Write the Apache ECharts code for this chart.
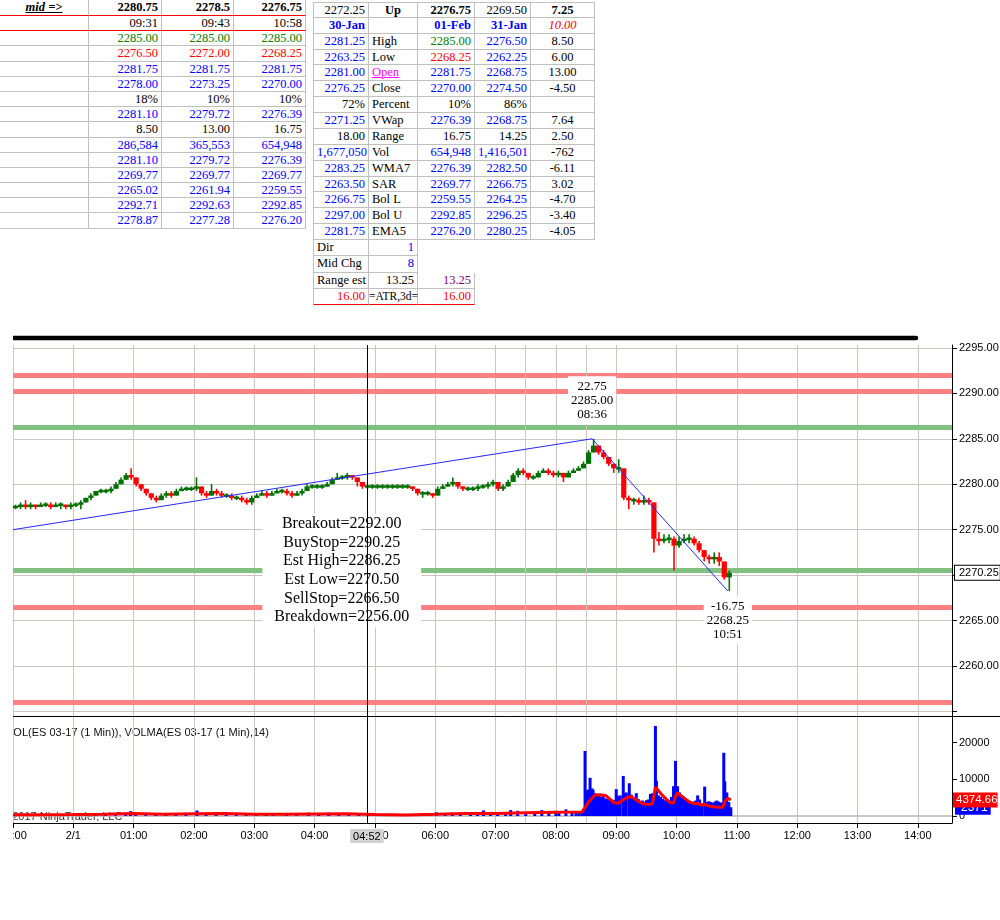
<!DOCTYPE html>
<html>
<head>
<meta charset="utf-8">
<title>ES 03-17 (1 Min) - levels</title>
<script src="https://cdn.jsdelivr.net/npm/echarts@6/dist/echarts.min.js"></script>
<style>
  body { margin: 0; background: #fff; }
  #page { position: relative; width: 1000px; height: 920px; overflow: hidden; }
  .cell {
    position: absolute; box-sizing: border-box;
    border-right: 1px solid #c0c0c0; border-bottom: 1px solid #c0c0c0;
    font-family: 'Liberation Serif', 'Times New Roman', serif; font-size: 12.5px;
    white-space: nowrap; overflow: hidden; padding: 0 3px;
  }
  #chart { position: absolute; left: 13px; top: 320px; width: 987px; height: 600px; }
</style>
</head>
<body>
<div id="page">
  <div id="chart"></div>
</div>

<script>
// ---------- top-left table (mid snapshots)
var midHead = ['2280.75', '2278.5', '2276.75'];
var midTimes = ['09:31', '09:43', '10:58'];
var midRows = [
  ['2285.00', '2285.00', '2285.00'],
  ['2276.50', '2272.00', '2268.25'],
  ['2281.75', '2281.75', '2281.75'],
  ['2278.00', '2273.25', '2270.00'],
  ['18%', '10%', '10%'],
  ['2281.10', '2279.72', '2276.39'],
  ['8.50', '13.00', '16.75'],
  ['286,584', '365,553', '654,948'],
  ['2281.10', '2279.72', '2276.39'],
  ['2269.77', '2269.77', '2269.77'],
  ['2265.02', '2261.94', '2259.55'],
  ['2292.71', '2292.63', '2292.85'],
  ['2278.87', '2277.28', '2276.20']
];
var midRowColors = ['g', 'r', 'b', 'b', 'k', 'b', 'k', 'b', 'b', 'b', 'b', 'b', 'b'];

// ---------- top-right table (daily stats)
var statRows = [
  ['2272.25', 'Up', '2276.75', '2269.50', '7.25'],
  ['30-Jan', '', '01-Feb', '31-Jan', '10.00'],
  ['2281.25', 'High', '2285.00', '2276.50', '8.50'],
  ['2263.25', 'Low', '2268.25', '2262.25', '6.00'],
  ['2281.00', 'Open', '2281.75', '2268.75', '13.00'],
  ['2276.25', 'Close', '2270.00', '2274.50', '-4.50'],
  ['72%', 'Percent', '10%', '86%', ''],
  ['2271.25', 'VWap', '2276.39', '2268.75', '7.64'],
  ['18.00', 'Range', '16.75', '14.25', '2.50'],
  ['1,677,050', 'Vol', '654,948', '1,416,501', '-762'],
  ['2283.25', 'WMA7', '2276.39', '2282.50', '-6.11'],
  ['2263.50', 'SAR', '2269.77', '2266.75', '3.02'],
  ['2266.75', 'Bol L', '2259.55', '2264.25', '-4.70'],
  ['2297.00', 'Bol U', '2292.85', '2296.25', '-3.40'],
  ['2281.75', 'EMA5', '2276.20', '2280.25', '-4.05']
];
var statColors = ['kkkkk', 'bkbbr', 'bkgbk', 'bkrbk', 'bmbbk', 'bkbbk', 'kkkkk', 'bkbbk',
                  'kkkkk', 'bkbbk', 'bkbbk', 'bkbbk', 'bkbbk', 'bkbbk', 'bkbbk'];
var estRows = [
  ['Dir', '1', null],
  ['Mid Chg', '8', null],
  ['Range est', '13.25', '13.25'],
  ['16.00', '=ATR,3d=', '16.00']
];
var estColors = ['kb', 'kb', 'kkp', 'rkr'];

// ---------- chart data (minutes counted from 23:00 on 31-Jan, 5 minute bars)
var firstOpen = 2277.50;
var priceClose = [
  2277.50, 2277.75, 2277.50, 2277.75, 2277.50, 2277.75, 2277.75, 2277.50, 2277.75, 2277.75,
  2277.50, 2277.75, 2277.75, 2278.00, 2278.50, 2278.75, 2279.25, 2279.25, 2279.25, 2279.50,
  2280.00, 2280.50, 2281.00, 2280.75, 2280.00, 2279.50, 2279.00, 2278.50, 2278.25, 2278.75,
  2279.00, 2278.75, 2279.25, 2279.50, 2279.50, 2279.50, 2279.75, 2279.00, 2278.75, 2279.25,
  2279.00, 2278.75, 2278.75, 2278.50, 2278.50, 2278.25, 2278.00, 2278.50, 2278.75, 2279.00,
  2278.75, 2279.00, 2279.25, 2279.25, 2279.00, 2278.75, 2279.00, 2279.25, 2279.75, 2279.75,
  2279.75, 2279.75, 2280.00, 2280.50, 2280.75, 2280.75, 2281.00, 2280.75, 2280.25, 2279.75,
  2279.75, 2279.75, 2279.75, 2279.75, 2279.75, 2279.75, 2279.75, 2279.75, 2279.75, 2279.50,
  2279.00, 2279.00, 2279.00, 2278.75, 2279.50, 2279.75, 2280.00, 2280.25, 2279.75, 2279.50,
  2279.50, 2279.50, 2279.75, 2279.75, 2280.00, 2280.25, 2279.50, 2279.75, 2280.25, 2281.00,
  2281.50, 2281.25, 2280.75, 2280.75, 2281.25, 2281.50, 2281.25, 2281.00, 2281.25, 2280.75,
  2281.25, 2281.50, 2281.75, 2282.25, 2283.50, 2284.25, 2283.50, 2283.00, 2282.25, 2281.75,
  2281.75, 2278.50, 2278.25, 2278.25, 2278.00, 2278.25, 2278.00, 2274.00, 2273.75, 2274.00,
  2274.00, 2273.25, 2273.75, 2274.00, 2274.00, 2273.50, 2272.75, 2272.00, 2271.75, 2272.00,
  2271.50, 2269.75, 2270.25
];
var priceHigh = [
  2277.75, 2278.00, 2278.25, 2278.00, 2277.75, 2278.00, 2278.00, 2278.00, 2278.00, 2278.00,
  2277.75, 2278.00, 2278.00, 2278.25, 2278.50, 2279.00, 2279.25, 2279.50, 2279.50, 2279.75,
  2280.25, 2280.75, 2281.25, 2281.75, 2280.75, 2280.00, 2279.50, 2279.00, 2278.75, 2279.00,
  2279.25, 2279.25, 2279.50, 2279.75, 2279.75, 2279.75, 2280.75, 2279.75, 2279.25, 2280.00,
  2279.50, 2279.25, 2279.00, 2279.00, 2278.75, 2278.75, 2278.50, 2278.75, 2279.00, 2279.25,
  2279.25, 2279.25, 2279.50, 2279.50, 2279.50, 2279.25, 2279.25, 2279.50, 2280.00, 2280.00,
  2280.00, 2280.00, 2280.25, 2280.75, 2281.25, 2281.00, 2281.25, 2281.00, 2280.75, 2280.25,
  2280.00, 2280.00, 2280.00, 2280.00, 2280.00, 2280.00, 2280.00, 2280.00, 2280.00, 2279.75,
  2279.50, 2279.25, 2279.25, 2279.00, 2279.75, 2280.00, 2280.25, 2280.75, 2280.25, 2279.75,
  2279.75, 2279.75, 2280.00, 2280.00, 2280.25, 2280.50, 2280.25, 2280.00, 2280.50, 2281.25,
  2281.75, 2281.75, 2281.25, 2281.00, 2281.50, 2281.75, 2281.75, 2281.50, 2281.50, 2281.25,
  2281.50, 2281.75, 2282.00, 2282.50, 2283.75, 2285.00, 2284.25, 2283.75, 2283.00, 2282.25,
  2282.75, 2281.75, 2278.75, 2278.50, 2278.50, 2278.75, 2278.50, 2278.00, 2274.75, 2274.50,
  2274.50, 2274.25, 2274.25, 2274.50, 2274.50, 2274.25, 2273.75, 2272.75, 2272.25, 2272.50,
  2272.50, 2271.50, 2270.50
];
var priceLow = [
  2277.25, 2277.25, 2277.25, 2277.25, 2277.25, 2277.50, 2277.50, 2277.25, 2277.50, 2277.25,
  2277.25, 2277.25, 2277.50, 2277.25, 2278.00, 2278.25, 2278.75, 2279.00, 2279.00, 2279.00,
  2279.50, 2280.00, 2280.50, 2280.50, 2279.75, 2279.25, 2278.75, 2278.25, 2278.00, 2278.25,
  2278.50, 2278.50, 2278.75, 2279.25, 2279.25, 2279.25, 2279.25, 2278.75, 2278.50, 2278.75,
  2278.75, 2278.50, 2278.50, 2278.25, 2278.25, 2278.00, 2277.75, 2277.75, 2278.50, 2278.75,
  2278.50, 2278.75, 2279.00, 2279.00, 2278.75, 2278.50, 2278.75, 2278.75, 2279.25, 2279.50,
  2279.50, 2279.50, 2279.75, 2280.00, 2280.50, 2280.50, 2280.50, 2280.50, 2279.75, 2279.50,
  2279.50, 2279.50, 2279.50, 2279.50, 2279.50, 2279.50, 2279.50, 2279.50, 2279.50, 2279.25,
  2278.75, 2278.50, 2278.75, 2278.50, 2278.75, 2279.50, 2279.75, 2279.75, 2279.50, 2279.25,
  2279.25, 2279.25, 2279.25, 2279.50, 2279.50, 2279.75, 2279.25, 2279.25, 2279.75, 2280.25,
  2280.75, 2281.00, 2280.50, 2280.50, 2280.75, 2281.25, 2281.00, 2280.75, 2280.75, 2280.25,
  2280.75, 2281.25, 2281.50, 2281.75, 2282.25, 2283.50, 2283.25, 2282.75, 2282.00, 2281.25,
  2281.25, 2278.25, 2277.25, 2277.75, 2277.75, 2277.75, 2277.75, 2272.50, 2273.25, 2273.50,
  2273.50, 2270.50, 2273.00, 2273.50, 2273.50, 2273.25, 2272.50, 2271.50, 2271.25, 2271.25,
  2271.00, 2269.50, 2268.25
];

// volume per minute: [minute, contracts]
var volumeBars = [
  [2, 400], [12, 500], [22, 300], [32, 400], [42, 350], [52, 300], [62, 450], [72, 600], [82, 500], [92, 450],
  [102, 700], [112, 800], [117, 1300], [122, 700], [132, 500], [142, 400], [152, 450], [162, 400], [172, 600], [183, 1500],
  [192, 700], [202, 600], [212, 900], [222, 500], [232, 400], [242, 400], [252, 350], [259, 800], [272, 400], [282, 350],
  [294, 900], [304, 400], [314, 900], [324, 600], [334, 500], [344, 400], [354, 300], [364, 300], [374, 250], [384, 300],
  [394, 350], [404, 300], [414, 350], [421, 1000], [430, 600], [437, 900], [445, 600], [455, 1000], [462, 700], [468, 1500],
  [475, 800], [482, 700], [490, 800], [495, 1600], [502, 1400], [510, 900], [519, 1200], [526, 1600], [533, 800], [540, 1400],
  [543, 1300], [550, 1800], [556, 1000], [560, 900], [563, 1100], [566, 1200], [568, 2000],
  [569, 17700], [570, 6800], [572, 7200], [574, 10400], [576, 7500], [577, 7100], [579, 6200], [581, 5900], [583, 5600], [585, 5200],
  [587, 5400], [589, 4800], [591, 4600], [593, 4300], [595, 4000], [597, 4400], [599, 4200], [600, 7300], [602, 5500], [604, 5600],
  [607, 10900], [609, 6200], [610, 6400], [613, 8900], [615, 5800], [617, 4900], [619, 5200], [620, 6200], [622, 4600], [624, 4000],
  [626, 4200], [628, 3800], [630, 4300], [632, 4500], [634, 6000], [636, 6200], [637, 5500], [639, 24500], [640, 9600], [642, 5600],
  [644, 5200], [646, 4700], [648, 4300], [650, 4500], [652, 4000], [655, 5200], [657, 8100], [659, 15000], [661, 8100], [663, 6400],
  [665, 5600], [667, 5300], [669, 4700], [671, 4300], [673, 4000], [675, 3600], [677, 3900], [679, 4200], [681, 5600], [683, 4500],
  [685, 3400], [688, 8000], [690, 3800], [692, 4000], [694, 3800], [696, 3600], [698, 3900], [700, 4200], [702, 3900], [704, 3600],
  [706, 3800], [707, 17200], [708, 9400], [710, 6400], [712, 3800], [714, 2371]
];
// VOLMA(14)
var volMa = [
  [0, 350], [30, 320], [60, 380], [90, 500], [120, 650], [150, 500], [180, 600], [210, 650], [240, 500], [270, 450],
  [300, 550], [330, 600], [360, 400], [390, 300], [420, 450], [450, 650], [480, 700], [510, 900], [540, 1050], [566, 1100],
  [569, 2300], [572, 3600], [576, 4900], [579, 5700], [584, 5800], [590, 5500], [594, 4500], [598, 3600], [602, 3500], [606, 4200],
  [610, 4900], [614, 5300], [617, 4900], [622, 4000], [627, 3300], [632, 3100], [636, 3400], [639, 7800], [642, 6900], [646, 5600],
  [650, 4500], [654, 3600], [657, 3500], [659, 5400], [661, 6300], [665, 5400], [669, 4600], [673, 3800], [678, 3300], [681, 3500],
  [684, 3000], [688, 3200], [692, 2700], [697, 2500], [702, 2400], [706, 2400], [708, 4000], [711, 4800], [714, 4374.66]
];

// swing (zigzag) points
var swingMinutes = [0, 576, 711];
var swingPrices = [2275.00, 2285.00, 2268.25];
var swingChanges = ['', '22.75', '-16.75'];
var swingTimes = ['', '08:36', '10:51'];

// level lines
var levelNames = ['Breakout', 'BuyStop', 'Est High', 'Est Low', 'SellStop', 'Breakdown'];
var levelValues = [2292.00, 2290.25, 2286.25, 2270.50, 2266.50, 2256.00];
var levelKinds = ['r', 'r', 'g', 'g', 'r', 'r'];

var lastPrice = 2270.25;
var lastVolMa = '4374.66';
var lastVolume = 2371;
var cursorMinute = 352;          // 04:52
var sessionLines = [510, 570];   // 07:30, 08:30

// ---------- tables
var page = document.getElementById('page');
var colorMap = { k: '#000', b: '#0000ff', g: '#008000', r: '#ff0000', m: '#ff00ff', p: '#800080' };

function addCell(x, y, w, h, text, st) {
  var d = document.createElement('div');
  d.className = 'cell';
  d.style.left = x + 'px';
  d.style.top = y + 'px';
  d.style.width = w + 'px';
  d.style.height = h + 'px';
  d.style.lineHeight = (h - 1) + 'px';
  d.textContent = text;
  if (st) { for (var k in st) d.style[k] = st[k]; }
  page.appendChild(d);
  return d;
}

// left table
var lx = [0, 89, 162, 234, 306];
var ly = [0, 16, 31.3];
for (var i = 0; i < midRows.length; i++) ly.push(31.3 + 15.18 * (i + 1));
addCell(lx[0], 0, lx[1] - lx[0], 16, 'mid =>', { textAlign: 'center', fontStyle: 'italic', fontWeight: 'bold',
  textDecoration: 'underline', borderBottom: '1px solid #ff0000' });
for (var c = 0; c < 3; c++) {
  addCell(lx[c + 1], 0, lx[c + 2] - lx[c + 1], 16, midHead[c], { textAlign: 'right', fontWeight: 'bold',
    borderBottom: '1px solid #ff0000' });
}
addCell(lx[0], 16, lx[1] - lx[0], 15.3, '', { borderBottom: '1px solid #ff0000' });
for (c = 0; c < 3; c++) {
  addCell(lx[c + 1], 16, lx[c + 2] - lx[c + 1], 15.3, midTimes[c], { textAlign: 'right', borderBottom: '1px solid #ff0000' });
}
for (i = 0; i < midRows.length; i++) {
  var y0 = ly[i + 2], h0 = ly[i + 3] - ly[i + 2];
  addCell(lx[0], y0, lx[1] - lx[0], h0, '');
  for (c = 0; c < 3; c++) {
    addCell(lx[c + 1], y0, lx[c + 2] - lx[c + 1], h0, midRows[i][c],
      { textAlign: 'right', color: colorMap[midRowColors[i]] });
  }
}

// right table
var rx = [313, 369, 418, 475, 531, 595];
var rowH = 15.87;
for (i = 0; i < statRows.length; i++) {
  for (c = 0; c < 5; c++) {
    var st = { color: colorMap[statColors[i][c]], textAlign: c === 1 ? 'left' : (c === 4 ? 'center' : 'right') };
    if (c === 0) st.borderLeft = '1px solid #c0c0c0';
    if (i === 0) st.borderTop = '1px solid #c0c0c0';
    if (i === 0 && (c === 1 || c === 2 || c === 4)) st.fontWeight = 'bold';
    if (i === 0 && c === 1) st.textAlign = 'center';
    if (i === 1 && c !== 4) st.fontWeight = 'bold';
    if (i === 1 && c === 4) st.fontStyle = 'italic';
    if (i === 4 && c === 1) st.textDecoration = 'underline';
    addCell(rx[c], 2 + rowH * i, rx[c + 1] - rx[c], rowH, statRows[i][c], st);
  }
}
var estTop = 2 + rowH * statRows.length;
for (i = 0; i < estRows.length; i++) {
  for (c = 0; c < 3; c++) {
    if (estRows[i][c] === null) continue;
    var s2 = { color: colorMap[estColors[i][c]], textAlign: 'right' };
    if (c === 0) s2.borderLeft = '1px solid #c0c0c0';
    if ((i < 3 && c === 0) || (i === 3 && c === 1)) s2.textAlign = 'left';
    if (i === 3 && c === 1) { s2.padding = '0'; s2.fontSize = '11.5px'; s2.overflow = 'visible'; }
    if (i === 3) s2.borderBottom = '1px solid #ff0000';
    addCell(rx[c], estTop + 16.25 * i, rx[c + 1] - rx[c], 16.25, estRows[i][c], s2);
  }
}

// ---------- chart
var sans = "'Liberation Sans', Arial, sans-serif";
var serif = "'Liberation Serif', 'Times New Roman', serif";
var gridColor = '#cac6c0';
var levelColor = { r: '#ff8080', g: '#80c080' };
var noLine = { width: 0, color: 'rgba(0,0,0,0)' };

function timeLabel(m) {
  var t = 23 * 60 + m;
  var h = Math.floor(t / 60) % 24, mm = t % 60;
  if (h === 0 && mm === 0) return '2/1';
  return (h < 10 ? '0' : '') + h + ':' + (mm < 10 ? '0' : '') + mm;
}

var priceBars = priceClose.map(function (cl, i) {
  var op = i === 0 ? firstOpen : priceClose[i - 1];
  return [i * 5 + 2.5, op, cl, priceLow[i], priceHigh[i]];
});

var trendData = swingMinutes.map(function (m, i) { return [m, swingPrices[i]]; });

var boxText = levelNames.map(function (n, i) { return n + '=' + levelValues[i].toFixed(2); }).join('\n');

var chart = echarts.init(document.getElementById('chart'));

var option = {
  animation: false,
  textStyle: { fontFamily: sans },
  grid: [
    { left: 0, top: 25, width: 939, height: 371, containLabel: false, outerBoundsMode: 'none' },
    { left: 0, top: 396, width: 939, height: 107, containLabel: false, outerBoundsMode: 'none' }
  ],
  xAxis: [
    {
      type: 'value', gridIndex: 0, min: 0, max: 934, interval: 60,
      axisLine: { show: false, onZero: false }, axisTick: { show: false }, axisLabel: { show: false },
      splitLine: { show: true, lineStyle: { color: gridColor, width: 1 } }
    },
    {
      type: 'value', gridIndex: 1, min: 0, max: 934, interval: 60,
      axisLine: { show: true, onZero: false, lineStyle: { color: '#000', width: 1 } },
      axisTick: { show: true, length: 5, lineStyle: { color: '#000' } },
      axisLabel: { formatter: timeLabel, showMaxLabel: false, color: '#000', fontSize: 11, fontFamily: sans, margin: 7 },
      splitLine: { show: true, lineStyle: { color: gridColor, width: 1 } }
    }
  ],
  yAxis: [
    {
      type: 'value', gridIndex: 0, position: 'right', min: 2254.5, max: 2295.32, splitNumber: 8,
      axisLine: { show: true, onZero: false, lineStyle: { color: '#000', width: 1 } },
      axisTick: { show: true, length: 5, lineStyle: { color: '#000' } },
      axisLabel: {
        formatter: function (v) { return v < 2257 ? '' : v.toFixed(2); }, showMinLabel: false, showMaxLabel: false,
        color: '#000', fontSize: 11, fontFamily: sans, margin: 7
      },
      splitLine: { show: true, showMaxLine: false, lineStyle: { color: gridColor, width: 1 } }
    },
    {
      type: 'value', gridIndex: 1, position: 'right', min: -1904, max: 27200, splitNumber: 3,
      axisLine: { show: true, onZero: false, lineStyle: { color: '#000', width: 1 } },
      axisTick: { show: true, length: 5, lineStyle: { color: '#000' } },
      axisLabel: { formatter: function (v) { return String(v); }, showMinLabel: false, showMaxLabel: false,
        color: '#000', fontSize: 11, fontFamily: sans, margin: 7 },
      splitLine: { show: false }
    }
  ],
  series: [
    {
      // zigzag trend line, level lines and the text notes
      name: 'ZigZag', type: 'line', xAxisIndex: 0, yAxisIndex: 0, z: 3,
      data: trendData, symbol: 'none', lineStyle: { color: '#2626ff', width: 1 },
      markLine: {
        z: 1, silent: true, symbol: 'none', label: { show: false },
        data: levelValues.map(function (v, i) {
          return { yAxis: v, lineStyle: { color: levelColor[levelKinds[i]], width: 5, type: 'solid', opacity: 1 } };
        }).concat(sessionLines.map(function (m) {
          return { xAxis: m, lineStyle: { color: gridColor, width: 1, type: 'solid' } };
        }))
      },
      markPoint: {
        z: 10, silent: true, symbol: 'circle', symbolSize: 1, itemStyle: { color: 'rgba(0,0,0,0)' },
        data: [
          {
            coord: [327, levelValues[3]],
            label: { show: true, position: 'inside', formatter: boxText, backgroundColor: '#fff',
              padding: [1, 12, 1, 12], fontSize: 16, lineHeight: 18.6, fontFamily: serif, color: '#000' }
          },
          {
            coord: [swingMinutes[1], swingPrices[1]],
            label: { show: true, position: 'top', distance: 14,
              formatter: swingChanges[1] + '\n' + swingPrices[1].toFixed(2) + '\n' + swingTimes[1],
              backgroundColor: '#fff', padding: [3, 3, 3, 3], fontSize: 13, lineHeight: 14, fontFamily: serif, color: '#000' }
          },
          {
            coord: [swingMinutes[2], swingPrices[2]],
            label: { show: true, position: 'bottom', distance: 5,
              formatter: swingChanges[2] + '\n' + swingPrices[2].toFixed(2) + '\n' + swingTimes[2],
              backgroundColor: '#fff', padding: [3, 3, 3, 3], fontSize: 13, lineHeight: 14, fontFamily: serif, color: '#000' }
          }
        ]
      }
    },
    {
      name: 'ES 03-17', type: 'custom', xAxisIndex: 0, yAxisIndex: 0, z: 2,
      data: priceBars, encode: { x: 0, y: [3, 4] },
      renderItem: function (params, api) {
        var x = api.value(0), o = api.value(1), cl = api.value(2), lo = api.value(3), hi = api.value(4);
        var pH = api.coord([x, hi]), pL = api.coord([x, lo]);
        var pO = api.coord([x, o]), pC = api.coord([x, cl]);
        var col = cl >= o ? '#007000' : '#ff0000';
        var bh = Math.abs(pO[1] - pC[1]);
        var top = Math.min(pO[1], pC[1]);
        if (bh < 2.5) { top = (pO[1] + pC[1]) / 2 - 1.25; bh = 2.5; }
        return {
          type: 'group',
          children: [
            { type: 'rect', shape: { x: pH[0] - 0.8, y: pH[1], width: 1.6, height: Math.max(1.5, pL[1] - pH[1]) }, style: { fill: col } },
            { type: 'rect', shape: { x: pO[0] - 2.6, y: top, width: 5.2, height: bh }, style: { fill: col } }
          ]
        };
      }
    },
    {
      // last price tag and the cursor line on the price panel
      name: 'Last', type: 'line', xAxisIndex: 0, yAxisIndex: 0, z: 4,
      data: [[priceBars[priceBars.length - 1][0], lastPrice]], symbol: 'none', lineStyle: { width: 0 },
      markLine: {
        z: 11, silent: true, symbol: 'none', label: { show: false },
        data: [
          { xAxis: cursorMinute, lineStyle: { color: '#000', width: 1, type: 'solid' } },
          {
            yAxis: lastPrice, lineStyle: noLine,
            label: { show: true, position: 'end', distance: 3, formatter: lastPrice.toFixed(2),
              backgroundColor: '#fff', borderColor: '#000', borderWidth: 1, padding: [2, 1, 1, 4],
              color: '#000', fontSize: 11, fontFamily: sans }
          }
        ]
      }
    },
    {
      // zero line and session lines on the volume panel
      name: 'VolGrid', type: 'line', xAxisIndex: 1, yAxisIndex: 1, z: 1,
      data: [[0, 0]], symbol: 'none', lineStyle: { width: 0 },
      markLine: {
        z: 1, silent: true, symbol: 'none', label: { show: false },
        data: [{ yAxis: 0, lineStyle: { color: '#b8b4ae', width: 1.5, type: 'solid' } }].concat(
          sessionLines.map(function (m) { return { xAxis: m, lineStyle: { color: gridColor, width: 1, type: 'solid' } }; }))
      }
    },
    {
      name: 'VOL', type: 'bar', xAxisIndex: 1, yAxisIndex: 1, z: 2,
      data: volumeBars, barWidth: 3, itemStyle: { color: '#0000ff' },
      markLine: {
        z: 11, silent: true, symbol: 'none', label: { show: false },
        data: [
          {
            xAxis: cursorMinute, lineStyle: { color: '#000', width: 1, type: 'solid' },
            label: { show: true, position: 'start', distance: 6, formatter: timeLabel(cursorMinute),
              backgroundColor: '#d2d2d2', padding: [2, 3, 1, 3], color: '#000', fontSize: 11, fontFamily: sans }
          },
          {
            yAxis: lastVolume, lineStyle: noLine,
            label: { show: true, position: 'end', distance: 3, formatter: String(lastVolume),
              backgroundColor: '#0000ff', padding: [2, 3, 1, 6], color: '#fff', fontSize: 12, fontFamily: sans }
          }
        ]
      }
    },
    {
      name: 'VOLMA', type: 'line', xAxisIndex: 1, yAxisIndex: 1, z: 3,
      data: volMa, symbol: 'none', lineStyle: { color: '#ff0000', width: 3 },
      markLine: {
        z: 12, silent: true, symbol: 'none', label: { show: false },
        data: [{
          yAxis: Number(lastVolMa), lineStyle: noLine,
          label: { show: true, position: 'end', distance: 1, formatter: lastVolMa,
            backgroundColor: '#ff0000', padding: [2, 0, 1, 3], color: '#fff', fontSize: 11.5, fontFamily: sans }
        }]
      }
    }
  ],
  graphic: [
    { type: 'line', z: 5, shape: { x1: -1, y1: 18, x2: 903, y2: 18 }, style: { stroke: '#000', lineWidth: 4.5, lineCap: 'round' } },
    { type: 'line', z: 5, shape: { x1: 0, y1: 396.5, x2: 987, y2: 396.5 }, style: { stroke: '#000', lineWidth: 1 } },
    { type: 'text', z: 0, x: -7, y: 407, style: { text: 'VOL(ES 03-17 (1 Min)), VOLMA(ES 03-17 (1 Min),14)', fill: '#111', font: '11px ' + sans } },
    { type: 'text', z: 0, x: -12, y: 491, style: { text: '\u00a9 2017 NinjaTrader, LLC', fill: '#333', font: '11px ' + sans } }
  ]
};

chart.setOption(option);
</script>
</body>
</html>
